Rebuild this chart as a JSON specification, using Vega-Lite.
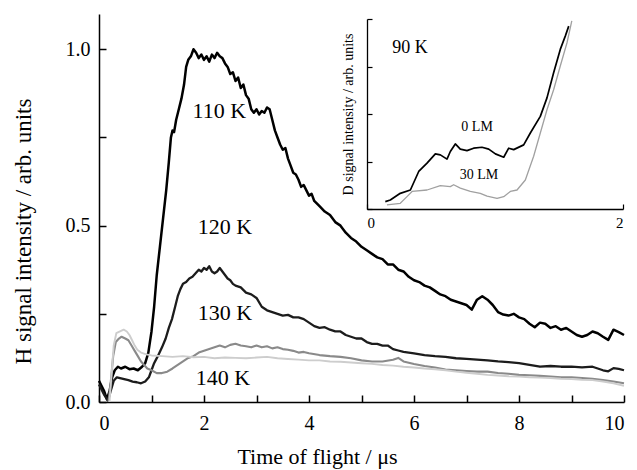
{
  "$schema": "https://vega.github.io/schema/vega-lite/v6.json",
  "width": 525,
  "height": 388,
  "autosize": {"type": "none"},
  "padding": {"left": 99, "top": 14, "right": 13, "bottom": 68},
  "background": "white",
  "config": {
    "view": {"stroke": null},
    "font": "Liberation Serif",
    "axis": {
      "grid": false,
      "labelFont": "Liberation Serif",
      "titleFont": "Liberation Serif",
      "titleFontWeight": "normal",
      "domainColor": "#000",
      "tickColor": "#000",
      "labelColor": "#000",
      "titleColor": "#000"
    }
  },
  "datasets": {
    "main": [
      {"t":0,"v":0.06,"s":"110 K"},{"t":0.05,"v":0.045,"s":"110 K"},{"t":0.1,"v":0.03,"s":"110 K"},{"t":0.15,"v":0.008,"s":"110 K"},{"t":0.2,"v":0.03,"s":"110 K"},{"t":0.25,"v":0.07,"s":"110 K"},{"t":0.3,"v":0.09,"s":"110 K"},{"t":0.36,"v":0.1,"s":"110 K"},{"t":0.42,"v":0.095,"s":"110 K"},{"t":0.5,"v":0.1,"s":"110 K"},{"t":0.58,"v":0.093,"s":"110 K"},{"t":0.66,"v":0.095,"s":"110 K"},{"t":0.74,"v":0.09,"s":"110 K"},{"t":0.82,"v":0.1,"s":"110 K"},{"t":0.88,"v":0.11,"s":"110 K"},{"t":0.94,"v":0.14,"s":"110 K"},{"t":1.0,"v":0.2,"s":"110 K"},{"t":1.05,"v":0.27,"s":"110 K"},{"t":1.1,"v":0.36,"s":"110 K"},{"t":1.16,"v":0.44,"s":"110 K"},{"t":1.22,"v":0.52,"s":"110 K"},{"t":1.28,"v":0.6,"s":"110 K"},{"t":1.33,"v":0.68,"s":"110 K"},{"t":1.37,"v":0.75,"s":"110 K"},{"t":1.4,"v":0.77,"s":"110 K"},{"t":1.43,"v":0.765,"s":"110 K"},{"t":1.47,"v":0.8,"s":"110 K"},{"t":1.52,"v":0.83,"s":"110 K"},{"t":1.57,"v":0.86,"s":"110 K"},{"t":1.62,"v":0.9,"s":"110 K"},{"t":1.66,"v":0.95,"s":"110 K"},{"t":1.7,"v":0.97,"s":"110 K"},{"t":1.75,"v":0.98,"s":"110 K"},{"t":1.8,"v":1.0,"s":"110 K"},{"t":1.85,"v":0.99,"s":"110 K"},{"t":1.9,"v":0.975,"s":"110 K"},{"t":1.95,"v":0.985,"s":"110 K"},{"t":2.0,"v":0.97,"s":"110 K"},{"t":2.05,"v":0.98,"s":"110 K"},{"t":2.1,"v":0.965,"s":"110 K"},{"t":2.15,"v":0.985,"s":"110 K"},{"t":2.2,"v":0.975,"s":"110 K"},{"t":2.25,"v":0.99,"s":"110 K"},{"t":2.3,"v":0.98,"s":"110 K"},{"t":2.35,"v":0.975,"s":"110 K"},{"t":2.4,"v":0.96,"s":"110 K"},{"t":2.45,"v":0.95,"s":"110 K"},{"t":2.5,"v":0.93,"s":"110 K"},{"t":2.55,"v":0.935,"s":"110 K"},{"t":2.6,"v":0.91,"s":"110 K"},{"t":2.65,"v":0.92,"s":"110 K"},{"t":2.7,"v":0.89,"s":"110 K"},{"t":2.75,"v":0.9,"s":"110 K"},{"t":2.8,"v":0.87,"s":"110 K"},{"t":2.85,"v":0.86,"s":"110 K"},{"t":2.9,"v":0.83,"s":"110 K"},{"t":2.95,"v":0.82,"s":"110 K"},{"t":3.0,"v":0.83,"s":"110 K"},{"t":3.05,"v":0.815,"s":"110 K"},{"t":3.1,"v":0.825,"s":"110 K"},{"t":3.15,"v":0.82,"s":"110 K"},{"t":3.2,"v":0.835,"s":"110 K"},{"t":3.25,"v":0.83,"s":"110 K"},{"t":3.3,"v":0.8,"s":"110 K"},{"t":3.35,"v":0.77,"s":"110 K"},{"t":3.4,"v":0.75,"s":"110 K"},{"t":3.45,"v":0.73,"s":"110 K"},{"t":3.5,"v":0.715,"s":"110 K"},{"t":3.55,"v":0.72,"s":"110 K"},{"t":3.6,"v":0.69,"s":"110 K"},{"t":3.65,"v":0.67,"s":"110 K"},{"t":3.7,"v":0.65,"s":"110 K"},{"t":3.75,"v":0.645,"s":"110 K"},{"t":3.8,"v":0.63,"s":"110 K"},{"t":3.85,"v":0.61,"s":"110 K"},{"t":3.9,"v":0.615,"s":"110 K"},{"t":3.95,"v":0.6,"s":"110 K"},{"t":4.0,"v":0.585,"s":"110 K"},{"t":4.05,"v":0.59,"s":"110 K"},{"t":4.1,"v":0.57,"s":"110 K"},{"t":4.2,"v":0.555,"s":"110 K"},{"t":4.3,"v":0.54,"s":"110 K"},{"t":4.4,"v":0.53,"s":"110 K"},{"t":4.5,"v":0.51,"s":"110 K"},{"t":4.6,"v":0.5,"s":"110 K"},{"t":4.7,"v":0.48,"s":"110 K"},{"t":4.8,"v":0.465,"s":"110 K"},{"t":4.9,"v":0.455,"s":"110 K"},{"t":5.0,"v":0.44,"s":"110 K"},{"t":5.1,"v":0.43,"s":"110 K"},{"t":5.2,"v":0.42,"s":"110 K"},{"t":5.3,"v":0.41,"s":"110 K"},{"t":5.4,"v":0.405,"s":"110 K"},{"t":5.5,"v":0.39,"s":"110 K"},{"t":5.6,"v":0.39,"s":"110 K"},{"t":5.7,"v":0.375,"s":"110 K"},{"t":5.8,"v":0.37,"s":"110 K"},{"t":5.9,"v":0.355,"s":"110 K"},{"t":6.0,"v":0.345,"s":"110 K"},{"t":6.1,"v":0.34,"s":"110 K"},{"t":6.2,"v":0.33,"s":"110 K"},{"t":6.3,"v":0.325,"s":"110 K"},{"t":6.4,"v":0.315,"s":"110 K"},{"t":6.5,"v":0.305,"s":"110 K"},{"t":6.6,"v":0.3,"s":"110 K"},{"t":6.7,"v":0.29,"s":"110 K"},{"t":6.8,"v":0.285,"s":"110 K"},{"t":6.9,"v":0.28,"s":"110 K"},{"t":7.0,"v":0.275,"s":"110 K"},{"t":7.1,"v":0.262,"s":"110 K"},{"t":7.2,"v":0.29,"s":"110 K"},{"t":7.3,"v":0.3,"s":"110 K"},{"t":7.4,"v":0.29,"s":"110 K"},{"t":7.5,"v":0.275,"s":"110 K"},{"t":7.6,"v":0.255,"s":"110 K"},{"t":7.7,"v":0.248,"s":"110 K"},{"t":7.8,"v":0.245,"s":"110 K"},{"t":7.9,"v":0.25,"s":"110 K"},{"t":8.0,"v":0.24,"s":"110 K"},{"t":8.1,"v":0.235,"s":"110 K"},{"t":8.2,"v":0.222,"s":"110 K"},{"t":8.3,"v":0.212,"s":"110 K"},{"t":8.4,"v":0.225,"s":"110 K"},{"t":8.5,"v":0.222,"s":"110 K"},{"t":8.6,"v":0.21,"s":"110 K"},{"t":8.7,"v":0.215,"s":"110 K"},{"t":8.8,"v":0.205,"s":"110 K"},{"t":8.9,"v":0.21,"s":"110 K"},{"t":9.0,"v":0.2,"s":"110 K"},{"t":9.1,"v":0.19,"s":"110 K"},{"t":9.2,"v":0.185,"s":"110 K"},{"t":9.3,"v":0.19,"s":"110 K"},{"t":9.4,"v":0.2,"s":"110 K"},{"t":9.5,"v":0.195,"s":"110 K"},{"t":9.6,"v":0.185,"s":"110 K"},{"t":9.7,"v":0.176,"s":"110 K"},{"t":9.8,"v":0.205,"s":"110 K"},{"t":9.9,"v":0.198,"s":"110 K"},{"t":10.0,"v":0.19,"s":"110 K"},

      {"t":0,"v":0.05,"s":"120 K"},{"t":0.05,"v":0.035,"s":"120 K"},{"t":0.1,"v":0.02,"s":"120 K"},{"t":0.17,"v":0.003,"s":"120 K"},{"t":0.22,"v":0.03,"s":"120 K"},{"t":0.28,"v":0.06,"s":"120 K"},{"t":0.34,"v":0.07,"s":"120 K"},{"t":0.4,"v":0.068,"s":"120 K"},{"t":0.48,"v":0.065,"s":"120 K"},{"t":0.56,"v":0.062,"s":"120 K"},{"t":0.64,"v":0.058,"s":"120 K"},{"t":0.72,"v":0.056,"s":"120 K"},{"t":0.8,"v":0.053,"s":"120 K"},{"t":0.88,"v":0.058,"s":"120 K"},{"t":0.95,"v":0.07,"s":"120 K"},{"t":1.0,"v":0.09,"s":"120 K"},{"t":1.05,"v":0.11,"s":"120 K"},{"t":1.12,"v":0.13,"s":"120 K"},{"t":1.2,"v":0.155,"s":"120 K"},{"t":1.27,"v":0.18,"s":"120 K"},{"t":1.33,"v":0.21,"s":"120 K"},{"t":1.39,"v":0.235,"s":"120 K"},{"t":1.45,"v":0.27,"s":"120 K"},{"t":1.5,"v":0.3,"s":"120 K"},{"t":1.55,"v":0.32,"s":"120 K"},{"t":1.6,"v":0.335,"s":"120 K"},{"t":1.66,"v":0.34,"s":"120 K"},{"t":1.72,"v":0.35,"s":"120 K"},{"t":1.78,"v":0.355,"s":"120 K"},{"t":1.84,"v":0.365,"s":"120 K"},{"t":1.9,"v":0.375,"s":"120 K"},{"t":1.95,"v":0.37,"s":"120 K"},{"t":2.0,"v":0.38,"s":"120 K"},{"t":2.05,"v":0.375,"s":"120 K"},{"t":2.1,"v":0.385,"s":"120 K"},{"t":2.15,"v":0.37,"s":"120 K"},{"t":2.2,"v":0.365,"s":"120 K"},{"t":2.25,"v":0.37,"s":"120 K"},{"t":2.3,"v":0.38,"s":"120 K"},{"t":2.35,"v":0.37,"s":"120 K"},{"t":2.4,"v":0.36,"s":"120 K"},{"t":2.45,"v":0.35,"s":"120 K"},{"t":2.5,"v":0.345,"s":"120 K"},{"t":2.55,"v":0.335,"s":"120 K"},{"t":2.6,"v":0.33,"s":"120 K"},{"t":2.7,"v":0.325,"s":"120 K"},{"t":2.8,"v":0.31,"s":"120 K"},{"t":2.9,"v":0.305,"s":"120 K"},{"t":3.0,"v":0.295,"s":"120 K"},{"t":3.1,"v":0.27,"s":"120 K"},{"t":3.2,"v":0.26,"s":"120 K"},{"t":3.3,"v":0.255,"s":"120 K"},{"t":3.4,"v":0.25,"s":"120 K"},{"t":3.5,"v":0.245,"s":"120 K"},{"t":3.6,"v":0.247,"s":"120 K"},{"t":3.7,"v":0.24,"s":"120 K"},{"t":3.8,"v":0.24,"s":"120 K"},{"t":3.9,"v":0.235,"s":"120 K"},{"t":4.0,"v":0.225,"s":"120 K"},{"t":4.1,"v":0.215,"s":"120 K"},{"t":4.2,"v":0.21,"s":"120 K"},{"t":4.3,"v":0.212,"s":"120 K"},{"t":4.4,"v":0.205,"s":"120 K"},{"t":4.5,"v":0.2,"s":"120 K"},{"t":4.6,"v":0.2,"s":"120 K"},{"t":4.7,"v":0.19,"s":"120 K"},{"t":4.8,"v":0.185,"s":"120 K"},{"t":4.9,"v":0.18,"s":"120 K"},{"t":5.0,"v":0.18,"s":"120 K"},{"t":5.1,"v":0.17,"s":"120 K"},{"t":5.2,"v":0.165,"s":"120 K"},{"t":5.3,"v":0.165,"s":"120 K"},{"t":5.4,"v":0.16,"s":"120 K"},{"t":5.5,"v":0.16,"s":"120 K"},{"t":5.6,"v":0.15,"s":"120 K"},{"t":5.7,"v":0.146,"s":"120 K"},{"t":5.8,"v":0.142,"s":"120 K"},{"t":5.9,"v":0.14,"s":"120 K"},{"t":6.0,"v":0.138,"s":"120 K"},{"t":6.2,"v":0.133,"s":"120 K"},{"t":6.4,"v":0.13,"s":"120 K"},{"t":6.6,"v":0.128,"s":"120 K"},{"t":6.8,"v":0.124,"s":"120 K"},{"t":7.0,"v":0.122,"s":"120 K"},{"t":7.2,"v":0.12,"s":"120 K"},{"t":7.4,"v":0.118,"s":"120 K"},{"t":7.6,"v":0.115,"s":"120 K"},{"t":7.8,"v":0.113,"s":"120 K"},{"t":8.0,"v":0.11,"s":"120 K"},{"t":8.2,"v":0.105,"s":"120 K"},{"t":8.4,"v":0.1,"s":"120 K"},{"t":8.6,"v":0.102,"s":"120 K"},{"t":8.8,"v":0.1,"s":"120 K"},{"t":9.0,"v":0.1,"s":"120 K"},{"t":9.2,"v":0.098,"s":"120 K"},{"t":9.4,"v":0.1,"s":"120 K"},{"t":9.6,"v":0.09,"s":"120 K"},{"t":9.7,"v":0.087,"s":"120 K"},{"t":9.8,"v":0.096,"s":"120 K"},{"t":9.9,"v":0.094,"s":"120 K"},{"t":10.0,"v":0.09,"s":"120 K"},

      {"t":0.18,"v":0.0,"s":"130 K"},{"t":0.22,"v":0.05,"s":"130 K"},{"t":0.27,"v":0.13,"s":"130 K"},{"t":0.32,"v":0.17,"s":"130 K"},{"t":0.38,"v":0.18,"s":"130 K"},{"t":0.43,"v":0.185,"s":"130 K"},{"t":0.5,"v":0.18,"s":"130 K"},{"t":0.56,"v":0.175,"s":"130 K"},{"t":0.62,"v":0.16,"s":"130 K"},{"t":0.68,"v":0.145,"s":"130 K"},{"t":0.74,"v":0.13,"s":"130 K"},{"t":0.8,"v":0.115,"s":"130 K"},{"t":0.86,"v":0.105,"s":"130 K"},{"t":0.92,"v":0.095,"s":"130 K"},{"t":1.0,"v":0.09,"s":"130 K"},{"t":1.1,"v":0.082,"s":"130 K"},{"t":1.2,"v":0.082,"s":"130 K"},{"t":1.3,"v":0.086,"s":"130 K"},{"t":1.4,"v":0.095,"s":"130 K"},{"t":1.5,"v":0.105,"s":"130 K"},{"t":1.6,"v":0.115,"s":"130 K"},{"t":1.7,"v":0.125,"s":"130 K"},{"t":1.8,"v":0.13,"s":"130 K"},{"t":1.9,"v":0.14,"s":"130 K"},{"t":2.0,"v":0.145,"s":"130 K"},{"t":2.1,"v":0.15,"s":"130 K"},{"t":2.2,"v":0.155,"s":"130 K"},{"t":2.3,"v":0.16,"s":"130 K"},{"t":2.4,"v":0.155,"s":"130 K"},{"t":2.5,"v":0.162,"s":"130 K"},{"t":2.6,"v":0.165,"s":"130 K"},{"t":2.7,"v":0.16,"s":"130 K"},{"t":2.8,"v":0.158,"s":"130 K"},{"t":2.9,"v":0.155,"s":"130 K"},{"t":3.0,"v":0.16,"s":"130 K"},{"t":3.1,"v":0.155,"s":"130 K"},{"t":3.2,"v":0.158,"s":"130 K"},{"t":3.3,"v":0.152,"s":"130 K"},{"t":3.4,"v":0.155,"s":"130 K"},{"t":3.5,"v":0.15,"s":"130 K"},{"t":3.6,"v":0.148,"s":"130 K"},{"t":3.7,"v":0.145,"s":"130 K"},{"t":3.8,"v":0.14,"s":"130 K"},{"t":3.9,"v":0.142,"s":"130 K"},{"t":4.0,"v":0.138,"s":"130 K"},{"t":4.2,"v":0.133,"s":"130 K"},{"t":4.4,"v":0.13,"s":"130 K"},{"t":4.6,"v":0.128,"s":"130 K"},{"t":4.8,"v":0.124,"s":"130 K"},{"t":5.0,"v":0.118,"s":"130 K"},{"t":5.2,"v":0.115,"s":"130 K"},{"t":5.4,"v":0.115,"s":"130 K"},{"t":5.6,"v":0.12,"s":"130 K"},{"t":5.7,"v":0.125,"s":"130 K"},{"t":5.8,"v":0.115,"s":"130 K"},{"t":6.0,"v":0.108,"s":"130 K"},{"t":6.2,"v":0.102,"s":"130 K"},{"t":6.4,"v":0.098,"s":"130 K"},{"t":6.6,"v":0.092,"s":"130 K"},{"t":6.8,"v":0.09,"s":"130 K"},{"t":7.0,"v":0.088,"s":"130 K"},{"t":7.2,"v":0.086,"s":"130 K"},{"t":7.4,"v":0.086,"s":"130 K"},{"t":7.6,"v":0.082,"s":"130 K"},{"t":7.8,"v":0.08,"s":"130 K"},{"t":8.0,"v":0.077,"s":"130 K"},{"t":8.2,"v":0.076,"s":"130 K"},{"t":8.4,"v":0.074,"s":"130 K"},{"t":8.6,"v":0.072,"s":"130 K"},{"t":8.8,"v":0.07,"s":"130 K"},{"t":9.0,"v":0.07,"s":"130 K"},{"t":9.2,"v":0.068,"s":"130 K"},{"t":9.4,"v":0.066,"s":"130 K"},{"t":9.6,"v":0.062,"s":"130 K"},{"t":9.8,"v":0.058,"s":"130 K"},{"t":10.0,"v":0.053,"s":"130 K"},

      {"t":0.2,"v":0.0,"s":"140 K"},{"t":0.24,"v":0.08,"s":"140 K"},{"t":0.28,"v":0.16,"s":"140 K"},{"t":0.33,"v":0.195,"s":"140 K"},{"t":0.4,"v":0.2,"s":"140 K"},{"t":0.47,"v":0.205,"s":"140 K"},{"t":0.53,"v":0.2,"s":"140 K"},{"t":0.58,"v":0.19,"s":"140 K"},{"t":0.63,"v":0.175,"s":"140 K"},{"t":0.68,"v":0.16,"s":"140 K"},{"t":0.73,"v":0.148,"s":"140 K"},{"t":0.8,"v":0.14,"s":"140 K"},{"t":0.9,"v":0.135,"s":"140 K"},{"t":1.0,"v":0.132,"s":"140 K"},{"t":1.2,"v":0.13,"s":"140 K"},{"t":1.4,"v":0.128,"s":"140 K"},{"t":1.6,"v":0.13,"s":"140 K"},{"t":1.8,"v":0.127,"s":"140 K"},{"t":2.0,"v":0.128,"s":"140 K"},{"t":2.2,"v":0.124,"s":"140 K"},{"t":2.4,"v":0.126,"s":"140 K"},{"t":2.6,"v":0.125,"s":"140 K"},{"t":2.8,"v":0.124,"s":"140 K"},{"t":3.0,"v":0.126,"s":"140 K"},{"t":3.2,"v":0.128,"s":"140 K"},{"t":3.4,"v":0.124,"s":"140 K"},{"t":3.6,"v":0.122,"s":"140 K"},{"t":3.8,"v":0.12,"s":"140 K"},{"t":4.0,"v":0.118,"s":"140 K"},{"t":4.2,"v":0.118,"s":"140 K"},{"t":4.4,"v":0.115,"s":"140 K"},{"t":4.6,"v":0.114,"s":"140 K"},{"t":4.8,"v":0.112,"s":"140 K"},{"t":5.0,"v":0.11,"s":"140 K"},{"t":5.2,"v":0.108,"s":"140 K"},{"t":5.4,"v":0.105,"s":"140 K"},{"t":5.6,"v":0.103,"s":"140 K"},{"t":5.8,"v":0.1,"s":"140 K"},{"t":6.0,"v":0.098,"s":"140 K"},{"t":6.2,"v":0.095,"s":"140 K"},{"t":6.4,"v":0.093,"s":"140 K"},{"t":6.6,"v":0.09,"s":"140 K"},{"t":6.8,"v":0.086,"s":"140 K"},{"t":7.0,"v":0.083,"s":"140 K"},{"t":7.2,"v":0.08,"s":"140 K"},{"t":7.4,"v":0.077,"s":"140 K"},{"t":7.6,"v":0.075,"s":"140 K"},{"t":7.8,"v":0.073,"s":"140 K"},{"t":8.0,"v":0.072,"s":"140 K"},{"t":8.2,"v":0.07,"s":"140 K"},{"t":8.4,"v":0.069,"s":"140 K"},{"t":8.6,"v":0.068,"s":"140 K"},{"t":8.8,"v":0.066,"s":"140 K"},{"t":9.0,"v":0.065,"s":"140 K"},{"t":9.2,"v":0.063,"s":"140 K"},{"t":9.4,"v":0.062,"s":"140 K"},{"t":9.6,"v":0.058,"s":"140 K"},{"t":9.8,"v":0.053,"s":"140 K"},{"t":10.0,"v":0.046,"s":"140 K"}
    ],
    "mainLabels": [
      {"t":2.29,"v":0.824,"label":"110 K"},
      {"t":2.4,"v":0.497,"label":"120 K"},
      {"t":2.4,"v":0.253,"label":"130 K"},
      {"t":2.36,"v":0.068,"label":"140 K"}
    ],
    "inset": [
      {"t":0.143,"v":0.155,"s":"0 LM"},{"t":0.182,"v":0.19,"s":"0 LM"},{"t":0.26,"v":0.33,"s":"0 LM"},{"t":0.339,"v":0.4,"s":"0 LM"},{"t":0.404,"v":0.79,"s":"0 LM"},{"t":0.469,"v":0.965,"s":"0 LM"},{"t":0.534,"v":1.16,"s":"0 LM"},{"t":0.573,"v":1.14,"s":"0 LM"},{"t":0.625,"v":1.05,"s":"0 LM"},{"t":0.651,"v":1.21,"s":"0 LM"},{"t":0.69,"v":1.37,"s":"0 LM"},{"t":0.729,"v":1.26,"s":"0 LM"},{"t":0.781,"v":1.23,"s":"0 LM"},{"t":0.833,"v":1.28,"s":"0 LM"},{"t":0.898,"v":1.3,"s":"0 LM"},{"t":0.951,"v":1.26,"s":"0 LM"},{"t":1.003,"v":1.16,"s":"0 LM"},{"t":1.068,"v":1.09,"s":"0 LM"},{"t":1.107,"v":1.28,"s":"0 LM"},{"t":1.146,"v":1.25,"s":"0 LM"},{"t":1.224,"v":1.35,"s":"0 LM"},{"t":1.276,"v":1.6,"s":"0 LM"},{"t":1.354,"v":1.95,"s":"0 LM"},{"t":1.406,"v":2.34,"s":"0 LM"},{"t":1.458,"v":2.87,"s":"0 LM"},{"t":1.51,"v":3.36,"s":"0 LM"},{"t":1.549,"v":3.64,"s":"0 LM"},{"t":1.576,"v":3.85,"s":"0 LM"},
      {"t":0.156,"v":0.085,"s":"30 LM"},{"t":0.26,"v":0.12,"s":"30 LM"},{"t":0.3125,"v":0.26,"s":"30 LM"},{"t":0.352,"v":0.37,"s":"30 LM"},{"t":0.469,"v":0.4,"s":"30 LM"},{"t":0.573,"v":0.49,"s":"30 LM"},{"t":0.651,"v":0.47,"s":"30 LM"},{"t":0.677,"v":0.51,"s":"30 LM"},{"t":0.729,"v":0.44,"s":"30 LM"},{"t":0.807,"v":0.37,"s":"30 LM"},{"t":0.885,"v":0.33,"s":"30 LM"},{"t":0.938,"v":0.27,"s":"30 LM"},{"t":1.016,"v":0.225,"s":"30 LM"},{"t":1.068,"v":0.26,"s":"30 LM"},{"t":1.12,"v":0.37,"s":"30 LM"},{"t":1.172,"v":0.4,"s":"30 LM"},{"t":1.237,"v":0.61,"s":"30 LM"},{"t":1.302,"v":1.11,"s":"30 LM"},{"t":1.354,"v":1.6,"s":"30 LM"},{"t":1.406,"v":2.09,"s":"30 LM"},{"t":1.458,"v":2.51,"s":"30 LM"},{"t":1.51,"v":3.01,"s":"30 LM"},{"t":1.5625,"v":3.5,"s":"30 LM"},{"t":1.6,"v":3.96,"s":"30 LM"}
    ],
    "insetLabels": [
      {"t":0.336,"v":3.4,"label":"90 K","size":"big"},
      {"t":0.86,"v":1.72,"label":"0 LM","size":"small"},
      {"t":0.875,"v":0.716,"label":"30 LM","size":"small"}
    ]
  },
  "layer": [
    {
      "layer": [
        {
          "data": {"name": "main"},
          "mark": {"type": "line", "clip": false, "strokeJoin": "round"},
          "encoding": {
            "x": {
              "field": "t", "type": "quantitative",
              "scale": {"domain": [0, 10], "nice": false},
              "axis": {
                "orient": "bottom",
                "values": [0,1,2,3,4,5,6,7,8,9,10],
                "format": "d",
                "labelExpr": "datum.value % 2 === 0 ? datum.label : ''",
                "tickSize": -7,
                "tickWidth": 1.5,
                "domainWidth": 1.5,
                "labelFontSize": 20,
                "labelPadding": 18,
                "labelBaseline": "top",
                "title": "Time of flight / μs",
                "titleFontSize": 22,
                "titleX": 218,
                "titleY": 54,
                "titleBaseline": "middle"
              }
            },
            "y": {
              "field": "v", "type": "quantitative",
              "scale": {"domain": [0, 1.1], "nice": false},
              "axis": {
                "orient": "left",
                "values": [0, 0.25, 0.5, 0.75, 1.0],
                "labelExpr": "(datum.value * 2) % 1 === 0 ? format(datum.value, '.1f') : ''",
                "tickSize": -7,
                "tickWidth": 1.5,
                "domainWidth": 1.5,
                "labelFontSize": 20,
                "labelPadding": 16,
                "title": "H signal intensity / arb. units",
                "titleFontSize": 23,
                "titleX": -76,
                "titleY": 217,
                "titleBaseline": "middle"
              }
            },
            "detail": {"field": "s"},
            "color": {
              "field": "s", "type": "nominal", "legend": null,
              "scale": {"domain": ["110 K", "120 K", "130 K", "140 K"], "range": ["#000000", "#1c1c1c", "#8a8a8a", "#cdcdcd"]}
            },
            "strokeWidth": {
              "field": "s", "type": "nominal", "legend": null,
              "scale": {"domain": ["110 K", "120 K", "130 K", "140 K"], "range": [2.5, 1.9, 1.9, 1.9]}
            }
          }
        },
        {
          "data": {"name": "mainLabels"},
          "mark": {"type": "text", "font": "Liberation Serif", "fontSize": 22, "color": "#000", "align": "center", "baseline": "middle"},
          "encoding": {
            "x": {"field": "t", "type": "quantitative"},
            "y": {"field": "v", "type": "quantitative"},
            "text": {"field": "label"}
          }
        }
      ]
    },
    {
      "layer": [
        {
          "data": {"name": "inset"},
          "mark": {"type": "line", "clip": false, "strokeJoin": "round"},
          "encoding": {
            "x": {
              "field": "t", "type": "quantitative",
              "scale": {"domain": [0, 2], "range": [268, 524], "nice": false},
              "axis": {
                "orient": "bottom",
                "offset": -193,
                "values": [0, 0.5, 1, 1.5, 2],
                "format": "d",
                "labelExpr": "datum.value % 1 === 0 ? datum.label : ''",
                "tickSize": -5,
                "tickWidth": 1.2,
                "domainWidth": 1.3,
                "labelFontSize": 15,
                "labelPadding": 11,
                "labelBaseline": "top",
                "title": null
              }
            },
            "y": {
              "field": "v", "type": "quantitative",
              "scale": {"domain": [0, 4], "range": [195, 5], "nice": false},
              "axis": {
                "orient": "left",
                "offset": -268,
                "values": [0, 1, 2, 3, 4],
                "labels": false,
                "tickSize": -5,
                "tickWidth": 1.2,
                "domainWidth": 1.3,
                "title": "D signal intensity / arb. units",
                "titleFontSize": 14,
                "titleX": -19,
                "titleBaseline": "middle"
              }
            },
            "detail": {"field": "s"},
            "color": {
              "field": "s", "type": "nominal", "legend": null,
              "scale": {"domain": ["0 LM", "30 LM"], "range": ["#000000", "#a0a0a0"]}
            },
            "strokeWidth": {
              "field": "s", "type": "nominal", "legend": null,
              "scale": {"domain": ["0 LM", "30 LM"], "range": [1.7, 1.3]}
            }
          }
        },
        {
          "data": {"name": "insetLabels"},
          "mark": {"type": "text", "font": "Liberation Serif", "color": "#000", "align": "center", "baseline": "middle"},
          "encoding": {
            "x": {"field": "t", "type": "quantitative"},
            "y": {"field": "v", "type": "quantitative"},
            "text": {"field": "label"},
            "size": {"field": "size", "type": "nominal", "legend": null, "scale": {"domain": ["big", "small"], "range": [18, 14]}}
          }
        }
      ]
    }
  ],
  "resolve": {
    "scale": {"x": "independent", "y": "independent", "color": "independent", "strokeWidth": "independent", "size": "independent"},
    "axis": {"x": "independent", "y": "independent"}
  }
}
